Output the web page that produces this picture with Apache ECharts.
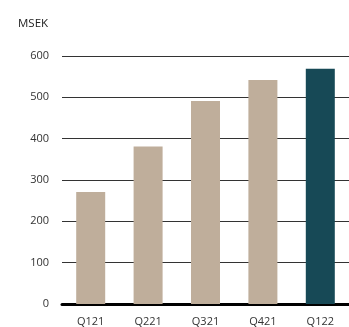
<!DOCTYPE html>
<html>
<head>
<meta charset="utf-8">
<script src="https://cdn.jsdelivr.net/npm/echarts@6/dist/echarts.min.js"></script>
<style>
  html, body { margin: 0; padding: 0; background: #fff; }
  #chart { width: 349px; height: 327px; }
</style>
</head>
<body>
<div id="chart"></div>
<script>
// Quarterly figures in MSEK
const categories = ['Q121', 'Q221', 'Q321', 'Q421', 'Q122'];
const values = [271, 381, 491, 542, 569];
const barColors = ['#BFAE9B', '#BFAE9B', '#BFAE9B', '#BFAE9B', '#174956'];
const unitLabel = 'MSEK';

const chart = echarts.init(document.getElementById('chart'), null, { renderer: 'canvas' });
chart.setOption({
  animation: false,
  backgroundColor: '#fff',
  textStyle: { fontFamily: '"Open Sans", sans-serif' },
  grid: { left: 62, right: 0, top: 56, bottom: 23 },
  graphic: [{
    type: 'text', left: 18, top: 18,
    style: { text: unitLabel, fontSize: 11.5, fill: '#222', fontFamily: '"Open Sans", sans-serif' }
  }],
  xAxis: {
    type: 'category',
    data: categories,
    axisTick: { show: false },
    axisLine: { show: true, lineStyle: { color: '#000', width: 3 } },
    axisLabel: { color: '#333', fontSize: 11, margin: 12 }
  },
  yAxis: {
    type: 'value',
    min: 0, max: 600, interval: 100,
    axisLine: { show: false },
    axisTick: { show: false },
    axisLabel: { color: '#333', fontSize: 11, margin: 13 },
    splitLine: { lineStyle: { color: '#333', width: 1 } }
  },
  series: [{
    type: 'bar',
    data: values.map((v, i) => ({ value: v, itemStyle: { color: barColors[i] } })),
    barWidth: 29
  }]
});
</script>
</body>
</html>
